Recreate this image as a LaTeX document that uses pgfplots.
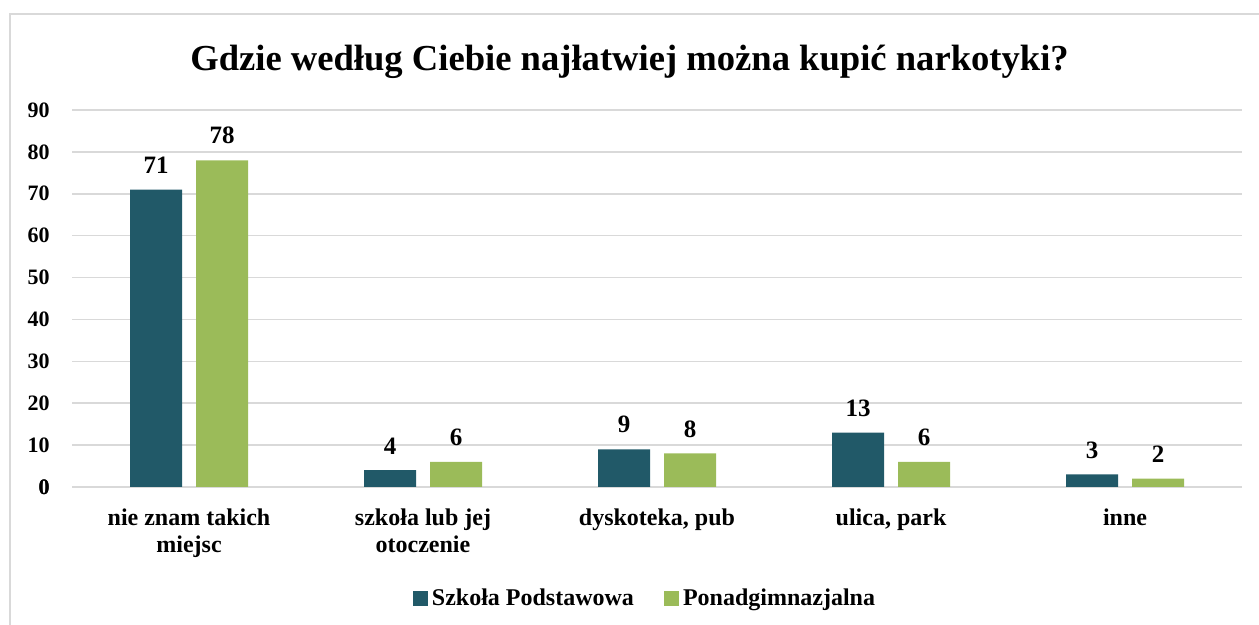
\documentclass[border=0pt]{standalone}
\usepackage{fontspec}
\setmainfont{Liberation Serif}
\usepackage{pgfplots}
\pgfplotsset{compat=1.18}
\definecolor{dteal}{HTML}{215968}
\definecolor{lgreen}{HTML}{9BBB59}
\definecolor{gridg}{HTML}{D9D9D9}
\begin{document}
\begin{tikzpicture}
\useasboundingbox (0,0) rectangle (629.5pt,312.5pt);
\begin{scope}
\clip (0,0) rectangle (629.5pt,312.5pt);
\draw[gridg, line width=1pt] (5pt,-20pt) rectangle (660pt,305.5pt);
\end{scope}
\node[font=\bfseries\fontsize{18.3}{22}\selectfont] at (314.75pt,281.5pt) {Gdzie według Ciebie najłatwiej można kupić narkotyki?};
\begin{axis}[
  at={(36pt,69pt)}, anchor=south west,
  scale only axis, width=585pt, height=188.5pt,
  ybar=7pt, bar width=26pt,
  xmin=-0.5, xmax=4.5, ymin=0, ymax=90,
  ytick={0,10,...,90},
  xtick={0,1,2,3,4},
  xticklabels={{nie znam takich\\miejsc},{szkoła lub jej\\otoczenie},{dyskoteka, pub},{ulica, park},{inne}},
  xticklabel style={align=center, font=\bfseries\fontsize{12}{13.5}\selectfont, inner sep=0pt, yshift=-10.5pt},
  yticklabel style={font=\bfseries\fontsize{11}{13}\selectfont, inner sep=0pt, xshift=-11pt},
  /pgf/number format/assume math mode=true,
  major tick length=0pt,
  axis line style={draw=none},
  ymajorgrids, grid style={gridg, line width=0.75pt},
  extra y ticks={0}, extra y tick style={grid style={gridg, line width=0.9pt}},
  nodes near coords,
  nodes near coords style={font=\bfseries\fontsize{12.5}{13}\selectfont, text=black, yshift=4.5pt},
  legend columns=2,
  legend style={at={(0.4906,-0.295)}, anchor=center, draw=none, fill=none,
    font=\bfseries\fontsize{12}{13}\selectfont,
    /tikz/every even column/.append style={column sep=13pt}},
  legend image code/.code={\fill[#1] (0pt,-3.75pt) rectangle (7.5pt,3.75pt);},
]
\addplot[fill=dteal, draw=none] coordinates {(0,71) (1,4) (2,9) (3,13) (4,3)};
\addplot[fill=lgreen, draw=none] coordinates {(0,78) (1,6) (2,8) (3,6) (4,2)};
\legend{Szkoła Podstawowa, Ponadgimnazjalna}
\end{axis}
\end{tikzpicture}
\end{document}
